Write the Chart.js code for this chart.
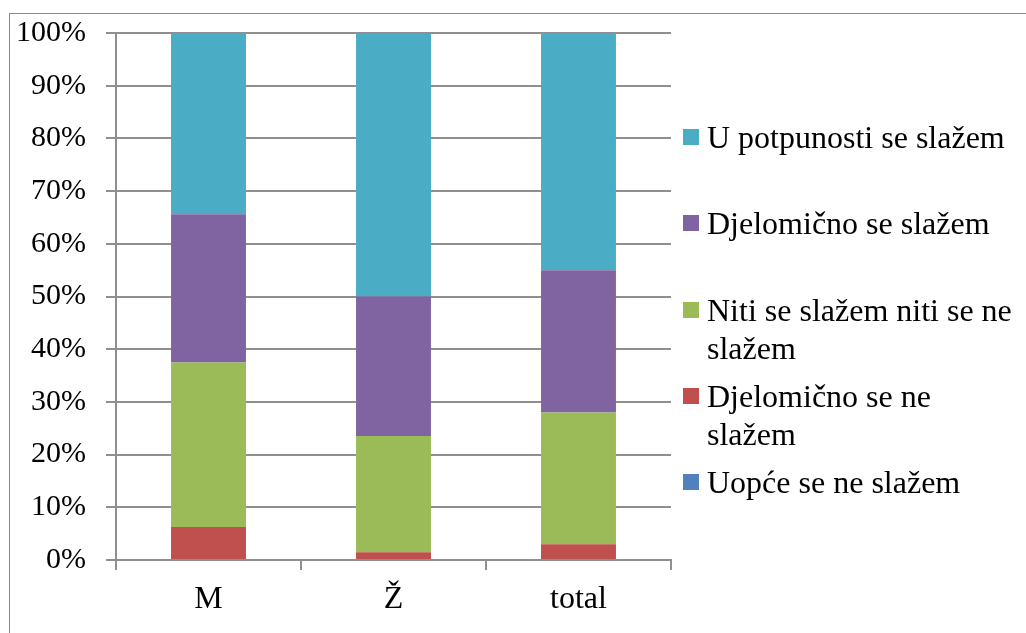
<!DOCTYPE html>
<html>
<head>
<meta charset="utf-8">
<script src="https://cdn.jsdelivr.net/npm/chart.js@4/dist/chart.umd.min.js"></script>
<style>
  html, body { margin: 0; padding: 0; background: #fff; overflow: hidden; }
  #wrap { position: relative; width: 1026px; height: 633px; }
  #frame { position: absolute; left: 9px; top: 13px; width: 1100px; height: 700px; border: 1.5px solid #8a8a8a; }
  #legend { position: absolute; left: 0; top: 0; font-family: "Liberation Serif", "Times New Roman", serif; font-size: 32px; color: #000; }
  .item { position: absolute; left: 683px; }
  .box { position: absolute; left: 0; top: 11px; width: 16px; height: 16px; }
  .txt { position: absolute; left: 24px; top: 0; width: 315px; line-height: 38px; }
</style>
</head>
<body>
<div id="wrap">
  <div id="frame"></div>
  <canvas id="chart" width="1026" height="633"></canvas>
  <div id="legend"></div>
</div>
<script>
const categories = ['M', 'Ž', 'total'];
const seriesNames = ['Uopće se ne slažem', 'Djelomično se ne slažem', 'Niti se slažem niti se ne slažem', 'Djelomično se slažem', 'U potpunosti se slažem'];
const uopceSeNe = [0, 0, 0];
const djelomicnoSeNe = [6.25, 1.47, 3];
const nitiNiti = [31.25, 22.06, 25];
const djelomicnoSe = [28.13, 26.47, 27];
const uPotpunosti = [34.37, 50, 45];
const yTicks = [0, 10, 20, 30, 40, 50, 60, 70, 80, 90, 100];

const colors = ['#4F81BD', '#C0504D', '#9BBB59', '#8064A2', '#4BACC6'];
const values = [uopceSeNe, djelomicnoSeNe, nitiNiti, djelomicnoSe, uPotpunosti];
const family = '"Liberation Serif", "Times New Roman", serif';
const gridColor = '#8f8f8f';

const ctx = document.getElementById('chart').getContext('2d');
const chart = new Chart(ctx, {
  type: 'bar',
  data: {
    labels: categories,
    datasets: seriesNames.map((name, i) => ({
      label: name,
      data: values[i],
      backgroundColor: colors[i],
      borderWidth: 0,
      barPercentage: 0.405,
      categoryPercentage: 1
    }))
  },
  options: {
    responsive: false,
    animation: false,
    layout: { padding: { left: 0, top: 33, right: 355, bottom: 0 } },
    plugins: { legend: { display: false }, tooltip: { enabled: false } },
    scales: {
      x: {
        stacked: true,
        grid: { drawOnChartArea: false, drawTicks: true, tickLength: 10, color: gridColor, lineWidth: 2 },
        border: { color: gridColor, width: 2 },
        ticks: { color: '#000', font: { family: family, size: 32 }, padding: 10 },
        afterFit: s => { s.height = 73; s.paddingLeft = 0; s.paddingRight = 0; }
      },
      y: {
        stacked: true,
        min: 0,
        max: 100,
        afterBuildTicks: s => { s.ticks = yTicks.map(v => ({ value: v })); },
        grid: { color: gridColor, lineWidth: 2, tickLength: 10 },
        border: { color: gridColor, width: 2 },
        ticks: { color: '#000', font: { family: family, size: 30 }, padding: 20, callback: v => v + '%' },
        // keep the plot edges fixed instead of padding for label halves
        afterFit: s => { s.width = 116; s.paddingTop = 0; s.paddingBottom = 0; }
      }
    }
  }
});

// legend on the right, top of stack first
const legend = document.getElementById('legend');
chart.data.datasets.slice().reverse().forEach((ds, i) => {
  const item = document.createElement('div');
  item.className = 'item';
  item.style.top = (118 + i * 86.3) + 'px';
  item.innerHTML = `<div class="box" style="background:${ds.backgroundColor}"></div><div class="txt">${ds.label}</div>`;
  legend.appendChild(item);
});
</script>
</body>
</html>
